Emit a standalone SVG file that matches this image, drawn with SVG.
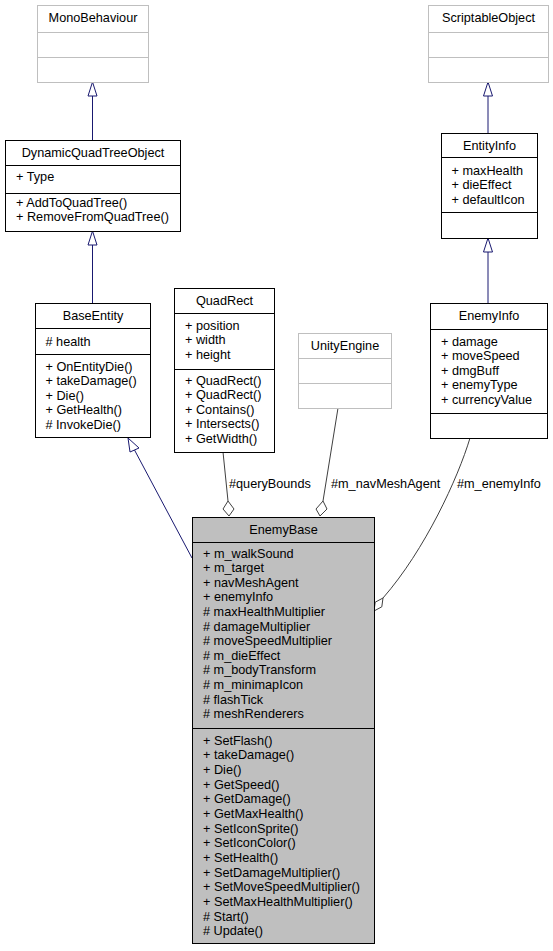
<svg xmlns="http://www.w3.org/2000/svg" width="553" height="951" viewBox="0 0 553 951">
<style>
text{font-family:"Liberation Sans",Arial,sans-serif;font-size:12.7px;fill:#000}
.t{text-anchor:middle}
.box{fill:#fff;stroke:#000;stroke-width:1}
.gbox{fill:#fff;stroke:#bfbfbf;stroke-width:1}
.cur{fill:#bfbfbf;stroke:#000;stroke-width:1}
.dv{stroke:#000;stroke-width:1}
.gdv{stroke:#bfbfbf;stroke-width:1}
.inh{fill:none;stroke:#191970;stroke-width:1}
.inhh{fill:#fff;stroke:#191970;stroke-width:1}
.agg{fill:none;stroke:#404040;stroke-width:1}
.aggh{fill:#fff;stroke:#404040;stroke-width:1}
</style>
<rect width="553" height="951" fill="#fff"/>
<g id="connectors">
<path class="inh" d="M92.5,140V96"/>
<polygon class="inhh" points="92.5,82 88,96 97,96"/>
<path class="inh" d="M488,133V96"/>
<polygon class="inhh" points="488,82 483.5,96 492.5,96"/>
<path class="inh" d="M92.5,303V245"/>
<polygon class="inhh" points="92.5,231 88,245 97,245"/>
<path class="inh" d="M488,303V252"/>
<polygon class="inhh" points="488,238 483.5,252 492.5,252"/>
<path class="inh" d="M192,558L134.5,450"/>
<polygon class="inhh" points="128,438 130,452 139,448"/>
<path class="agg" d="M223,452L228,501"/>
<polygon class="aggh" points="228,501 234,509 229,516 223,509"/>
<g><text x="229" y="487.5">#queryBounds</text></g>
<path class="agg" d="M338,408L323,501"/>
<polygon class="aggh" points="323,501 327,509 320,516 316,509"/>
<g><text x="331" y="487.5">#m_navMeshAgent</text></g>
<path class="agg" d="M470,438C458,478 425,550 383,598"/>
<polygon class="aggh" points="383,598 381.8,606.8 374,611 375.2,602.2"/>
<g><text x="457" y="487.5">#m_enemyInfo</text></g>
</g>
<g id="MonoBehaviour">
<rect class="gbox" x="37.5" y="5.5" width="111" height="77"/>
<line class="gdv" x1="37.5" y1="32.5" x2="148.5" y2="32.5"/>
<line class="gdv" x1="37.5" y1="57.5" x2="148.5" y2="57.5"/>
<text class="t" x="93" y="22">MonoBehaviour</text>
</g>
<g id="ScriptableObject">
<rect class="gbox" x="428.5" y="5.5" width="120" height="77"/>
<line class="gdv" x1="428.5" y1="32.5" x2="548.5" y2="32.5"/>
<line class="gdv" x1="428.5" y1="57.5" x2="548.5" y2="57.5"/>
<text class="t" x="488.5" y="22">ScriptableObject</text>
</g>
<g id="DynamicQuadTreeObject">
<rect class="box" x="5.5" y="140.5" width="175" height="91"/>
<line class="dv" x1="5.5" y1="165.5" x2="180.5" y2="165.5"/>
<line class="dv" x1="5.5" y1="193.5" x2="180.5" y2="193.5"/>
<text class="t" x="93" y="156.5">DynamicQuadTreeObject</text>
<text x="16" y="180.5">+ Type</text>
<text x="16" y="206.5">+ AddToQuadTree()</text>
<text x="16" y="221">+ RemoveFromQuadTree()</text>
</g>
<g id="EntityInfo">
<rect class="box" x="441.5" y="133.5" width="96" height="105"/>
<line class="dv" x1="441.5" y1="157.5" x2="537.5" y2="157.5"/>
<line class="dv" x1="441.5" y1="212.5" x2="537.5" y2="212.5"/>
<text class="t" x="489.5" y="149.5">EntityInfo</text>
<text x="451.5" y="174.5">+ maxHealth</text>
<text x="451.5" y="189">+ dieEffect</text>
<text x="451.5" y="203.5">+ defaultIcon</text>
</g>
<g id="BaseEntity">
<rect class="box" x="35.5" y="303.5" width="115" height="134"/>
<line class="dv" x1="35.5" y1="328.5" x2="150.5" y2="328.5"/>
<line class="dv" x1="35.5" y1="354.5" x2="150.5" y2="354.5"/>
<text class="t" x="93" y="319.5">BaseEntity</text>
<text x="45.5" y="345.5"># health</text>
<text x="45.5" y="370.5">+ OnEntityDie()</text>
<text x="45.5" y="385">+ takeDamage()</text>
<text x="45.5" y="399.5">+ Die()</text>
<text x="45.5" y="414">+ GetHealth()</text>
<text x="45.5" y="428.5"># InvokeDie()</text>
</g>
<g id="QuadRect">
<rect class="box" x="174.5" y="288.5" width="100" height="164"/>
<line class="dv" x1="174.5" y1="313.5" x2="274.5" y2="313.5"/>
<line class="dv" x1="174.5" y1="369.5" x2="274.5" y2="369.5"/>
<text class="t" x="224.5" y="305">QuadRect</text>
<text x="185" y="329.5">+ position</text>
<text x="185" y="344">+ width</text>
<text x="185" y="358.5">+ height</text>
<text x="185" y="384.5">+ QuadRect()</text>
<text x="185" y="399">+ QuadRect()</text>
<text x="185" y="413.5">+ Contains()</text>
<text x="185" y="428">+ Intersects()</text>
<text x="185" y="442.5">+ GetWidth()</text>
</g>
<g id="UnityEngine">
<rect class="gbox" x="298.5" y="333.5" width="93" height="75"/>
<line class="gdv" x1="298.5" y1="358.5" x2="391.5" y2="358.5"/>
<line class="gdv" x1="298.5" y1="383.5" x2="391.5" y2="383.5"/>
<text class="t" x="345" y="349.5">UnityEngine</text>
</g>
<g id="EnemyInfo">
<rect class="box" x="430.5" y="303.5" width="117" height="135"/>
<line class="dv" x1="430.5" y1="329.5" x2="547.5" y2="329.5"/>
<line class="dv" x1="430.5" y1="413.5" x2="547.5" y2="413.5"/>
<text class="t" x="489" y="319.5">EnemyInfo</text>
<text x="441" y="345.5">+ damage</text>
<text x="441" y="360">+ moveSpeed</text>
<text x="441" y="374.5">+ dmgBuff</text>
<text x="441" y="389">+ enemyType</text>
<text x="441" y="403.5">+ currencyValue</text>
</g>
<g id="EnemyBase">
<rect class="cur" x="192.5" y="517.5" width="182" height="426"/>
<line class="dv" x1="192.5" y1="542.5" x2="374.5" y2="542.5"/>
<line class="dv" x1="192.5" y1="728.5" x2="374.5" y2="728.5"/>
<text class="t" x="283.5" y="534">EnemyBase</text>
<text x="203" y="557.5">+ m_walkSound</text>
<text x="203" y="572.1">+ m_target</text>
<text x="203" y="586.7">+ navMeshAgent</text>
<text x="203" y="601.3">+ enemyInfo</text>
<text x="203" y="615.9"># maxHealthMultiplier</text>
<text x="203" y="630.5"># damageMultiplier</text>
<text x="203" y="645.1"># moveSpeedMultiplier</text>
<text x="203" y="659.7"># m_dieEffect</text>
<text x="203" y="674.3"># m_bodyTransform</text>
<text x="203" y="688.9"># m_minimapIcon</text>
<text x="203" y="703.5"># flashTick</text>
<text x="203" y="718.1"># meshRenderers</text>
<text x="203" y="744.5">+ SetFlash()</text>
<text x="203" y="759.2">+ takeDamage()</text>
<text x="203" y="773.8">+ Die()</text>
<text x="203" y="788.5">+ GetSpeed()</text>
<text x="203" y="803.2">+ GetDamage()</text>
<text x="203" y="817.8">+ GetMaxHealth()</text>
<text x="203" y="832.5">+ SetIconSprite()</text>
<text x="203" y="847.2">+ SetIconColor()</text>
<text x="203" y="861.9">+ SetHealth()</text>
<text x="203" y="876.5">+ SetDamageMultiplier()</text>
<text x="203" y="891.2">+ SetMoveSpeedMultiplier()</text>
<text x="203" y="905.9">+ SetMaxHealthMultiplier()</text>
<text x="203" y="920.5"># Start()</text>
<text x="203" y="935.2"># Update()</text>
</g>
</svg>
